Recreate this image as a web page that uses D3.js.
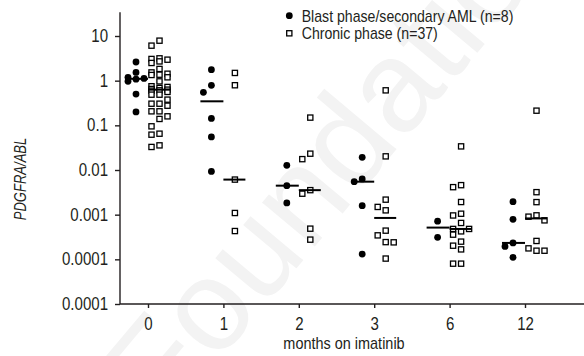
<!DOCTYPE html>
<html>
<head>
<meta charset="utf-8">
<script src="https://cdn.jsdelivr.net/npm/d3@7"></script>
<style>
  body { margin: 0; background: #fff; }
  svg text { font-family: "Liberation Sans", Arial, sans-serif; fill: #231f20; }
</style>
</head>
<body>
<div id="chart"></div>
<script>
// months on imatinib
const months = ['0', '1', '2', '3', '6', '12'];

// PDGFRA/ABL ratios, blast phase / secondary AML (filled circles)
const blast = [
  [2.62, 1.53, 1.19, 1.12, 1.08, 0.97, 0.50, 0.20],
  [1.76, 0.785, 0.547, 0.143, 0.055, 0.0093],
  [0.0127, 0.00446, 0.00183],
  [0.0192, 0.0063, 0.00548, 0.00159, 0.000131],
  [0.000716, 0.000311],
  [0.00195, 0.000785, 0.000233, 0.000195, 0.000111]
];

// chronic phase (open squares)
const chronic = [
  [7.86, 6.08, 3.16, 3.06, 2.95, 2.70, 2.49, 1.83, 1.53, 1.43, 1.36, 1.34, 1.19,
   0.965, 0.75, 0.723, 0.687, 0.652, 0.629, 0.607, 0.597, 0.56, 0.486, 0.486,
   0.376, 0.305, 0.305, 0.275, 0.206, 0.206, 0.159, 0.139, 0.095, 0.065, 0.0618,
   0.0356, 0.0328],
  [1.49, 0.79, 0.0061, 0.00109, 0.00043],
  [0.149, 0.0232, 0.0175, 0.00354, 0.00295, 0.000486, 0.000276],
  [0.607, 0.0202, 0.00217, 0.00149, 0.00125, 0.000439, 0.000344, 0.000243,
   0.00024, 0.000104],
  [0.0338, 0.00458, 0.00413, 0.00192, 0.00105, 0.00096, 0.000652, 0.000479,
   0.000479, 0.000423, 0.000357, 0.000249, 0.000202, 0.000167, 0.00008, 0.00008],
  [0.213, 0.00319, 0.00191, 0.000965, 0.000902, 0.000746, 0.000258, 0.000176,
   0.000156, 0.000156]
];

const yTickValues = [1e-5, 1e-4, 1e-3, 1e-2, 1e-1, 1, 10];
const yTickLabels = ['0.0001', '0.0001', '0.001', '0.01', '0.1', '1', '10'];
const legendLabels = ['Blast phase/secondary AML (n=8)', 'Chronic phase (n=37)'];

const width = 584, height = 356;

const svg = d3.select('#chart')
  .append('svg')
  .attr('width', width)
  .attr('height', height);

// the original uses a condensed face; squeeze the regular one to match
function narrow(sel, ratio) {
  sel.each(function () {
    const w = this.getComputedTextLength();
    d3.select(this)
      .attr('textLength', w * ratio)
      .attr('lengthAdjust', 'spacingAndGlyphs');
  });
}

// faint watermark
svg.append('text')
  .text('Foundation')
  .attr('transform', 'translate(165,425) rotate(-50)')
  .style('font-size', '130px')
  .style('fill', '#f3f3f3');

const x = d3.scalePoint()
  .domain(months)
  .range([148, 525]);

const y = d3.scaleLog()
  .domain([1e-5, 10])
  .range([304, 36]);

// simple dodge so overlapping markers sit side by side
function dodge(vals, cx, step, minDist) {
  const pts = vals.map(v => ({ v, y: y(v) })).sort((a, b) => a.y - b.y);
  const placed = [];
  pts.forEach(p => {
    let best = cx, bestD = -1;
    for (const k of [0, -1, 1]) {
      const px = cx + k * step;
      const d = placed.length ? d3.min(placed, q => Math.hypot(q.x - px, q.y - p.y)) : Infinity;
      if (d >= minDist) { best = px; break; }
      if (d > bestD) { bestD = d; best = px; }
    }
    p.x = best;
    placed.push(p);
  });
  return pts;
}

// axes
svg.append('line')
  .attr('x1', 120).attr('x2', 120)
  .attr('y1', y(34)).attr('y2', y(1e-5))
  .attr('stroke', '#231f20').attr('stroke-width', 1.4);

svg.append('line')
  .attr('x1', 120).attr('x2', width)
  .attr('y1', y(1e-5)).attr('y2', y(1e-5))
  .attr('stroke', '#231f20').attr('stroke-width', 1.4);

const yAxis = svg.append('g')
  .attr('transform', 'translate(120,0)')
  .call(d3.axisLeft(y).tickValues(yTickValues)
    .tickFormat((d, i) => yTickLabels[i]).tickSize(5).tickPadding(7));

const xAxis = svg.append('g')
  .attr('transform', `translate(0,${y(1e-5)})`)
  .call(d3.axisBottom(x).tickSize(4).tickPadding(10));

[yAxis, xAxis].forEach(g => {
  g.select('.domain').remove();
  g.selectAll('line').attr('stroke', '#231f20').attr('stroke-width', 1.4);
  g.selectAll('text')
    .style('font-size', '17.5px')
    .style('font-family', null)
    .attr('fill', '#231f20')
    .call(narrow, 0.86);
});

// points
months.forEach((m, i) => {
  const bx = x(m) - 12;
  const cx = x(m) + 11.5;

  svg.append('g').selectAll('circle')
    .data(dodge(blast[i], bx, 8, 7.5))
    .enter().append('circle')
    .attr('cx', d => d.x)
    .attr('cy', d => d.y)
    .attr('r', 3.4)
    .attr('fill', '#000');

  svg.append('g').selectAll('rect')
    .data(dodge(chronic[i], cx, 8, 7.5))
    .enter().append('rect')
    .attr('x', d => d.x - 2.6)
    .attr('y', d => d.y - 2.6)
    .attr('width', 5.2)
    .attr('height', 5.2)
    .attr('fill', '#fff')
    .attr('stroke', '#000')
    .attr('stroke-width', 1.3);

  // median bars
  const medians = [
    { x0: x(m) - 23, x1: x(m), v: d3.median(blast[i]) },
    { x0: x(m), x1: x(m) + 22, v: d3.median(chronic[i]) }
  ];
  svg.append('g').selectAll('line')
    .data(medians)
    .enter().append('line')
    .attr('x1', d => d.x0)
    .attr('x2', d => d.x1)
    .attr('y1', d => y(d.v))
    .attr('y2', d => y(d.v))
    .attr('stroke', '#000')
    .attr('stroke-width', 2);
});

// axis titles
svg.append('text')
  .text('months on imatinib')
  .attr('x', 344)
  .attr('y', 349)
  .attr('text-anchor', 'middle')
  .style('font-size', '17px')
  .call(narrow, 0.85);

svg.append('text')
  .text('PDGFRA/ABL')
  .attr('transform', 'translate(26,179) rotate(-90)')
  .attr('text-anchor', 'middle')
  .style('font-size', '16.5px')
  .style('font-style', 'italic')
  .call(narrow, 0.79);

// legend
const legend = svg.append('g');
legend.append('circle')
  .attr('cx', 289.3).attr('cy', 15.7).attr('r', 3.4).attr('fill', '#000');
legend.append('rect')
  .attr('x', 286.7).attr('y', 30.7).attr('width', 5.2).attr('height', 5.2)
  .attr('fill', '#fff').attr('stroke', '#000').attr('stroke-width', 1.3);
legend.selectAll('text')
  .data(legendLabels)
  .enter().append('text')
  .text(d => d)
  .attr('x', 301.7)
  .attr('y', (d, i) => 21.5 + i * 17.7)
  .style('font-size', '17px')
  .call(narrow, 0.83);
</script>
</body>
</html>
